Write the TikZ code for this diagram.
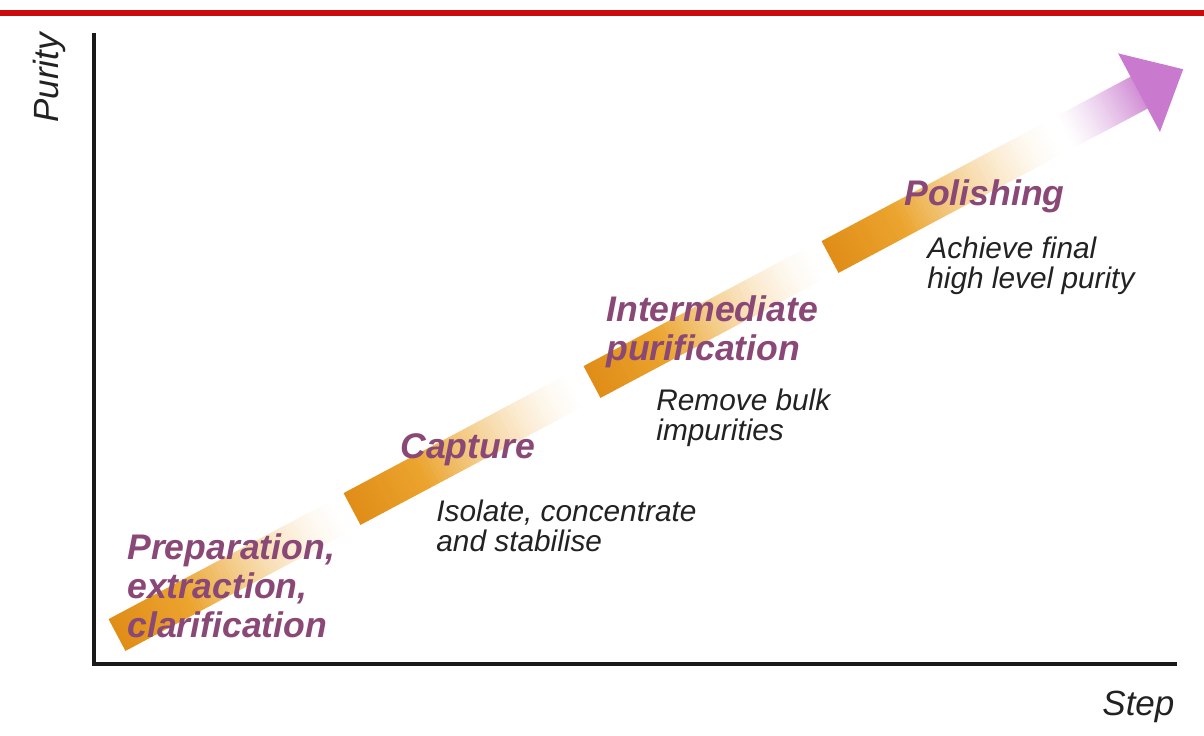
\documentclass[tikz,border=0pt]{standalone}
\usepackage{fontspec}
\setmainfont{Liberation Sans}
\definecolor{redbar}{HTML}{CC0A0A}
\definecolor{banddeep}{HTML}{E08E18}
\definecolor{bandmid}{HTML}{EBA42E}
\definecolor{arrowpink}{HTML}{C97ACE}
\definecolor{stagetext}{HTML}{8A4876}
\definecolor{notetext}{HTML}{222222}

% One faded stage bar: solid orange at its start, fading to white along its length
\newcommand\stagebar[1]{%
  \begin{scope}[shift={(#1)}, rotate=28]
    \foreach \i in {0,...,17}{
      \pgfmathsetmacro\q{100-100*\i/18}
      \fill[banddeep!\q!bandmid] (\i*4.25,-18) rectangle (\i*4.25+5,18);
    }
    \foreach \i in {18,...,59}{
      \pgfmathsetmacro\p{100*(1-(\i-18)/42)^1.5}
      \fill[bandmid!\p!white] (\i*4.25,-18) rectangle (\i*4.25+5,18);
    }
  \end{scope}}

\begin{document}
\begin{tikzpicture}[x=0.5pt, y=-0.5pt,
  stage/.style={anchor=base west, inner sep=0pt, align=left, text=stagetext,
    font=\fontsize{17.8}{19.5}\selectfont\bfseries\itshape},
  note/.style={anchor=base west, inner sep=0pt, align=left, text=notetext,
    font=\fontsize{14.9}{15}\selectfont\itshape},
  axislabel/.style={inner sep=0pt, text=notetext, font=\fontsize{17.5}{20}\selectfont\itshape},
  axisline/.style={line width=1.75pt, black!90, line join=miter}]

\useasboundingbox (0,0) rectangle (1204,735);

% top rule
\fill[redbar] (0,10) rectangle (1204,16);

% axes
\coordinate (ytop) at (94,33);
\coordinate (origin) at (94,664);
\coordinate (xend) at (1177,664);
\draw[axisline] (ytop) -- (origin) -- (xend);
\node[axislabel, rotate=90, anchor=base west] (purity) at (58,123) {Purity};
\node[axislabel, anchor=base west] (steplabel) at (1102,715) {Step};

% stage bars along the rising band
\coordinate (s1) at (117,635);
\coordinate (s2) at (352,509);
\coordinate (s3) at (592,382);
\coordinate (s4) at (830,257);
\stagebar{s1}
\stagebar{s2}
\stagebar{s3}
\stagebar{s4}

% final arrow: shaft fading in from white, then the head
\begin{scope}[shift={(s4)}, rotate=28]
  \foreach \i in {0,...,39}{
    \pgfmathsetmacro\p{85*(\i/39)^1.3}
    \fill[arrowpink!\p!white] (265+\i*2.2,-18) rectangle (265+\i*2.2+3,18);
  }
  \fill[arrowpink] (350,-44.5) -- (400,0) -- (350,44.5) -- cycle;
\end{scope}

% stage titles and descriptions (multi-line nodes sit on their last baseline)
\node[stage] (prep) at (127,637) {Preparation,\\extraction,\\clarification};
\node[stage] (capture) at (400,458) {Capture};
\node[note] (isolate) at (436,551) {Isolate, concentrate\\and stabilise};
\node[stage] (interm) at (606,360) {Intermediate\\purification};
\node[note] (remove) at (656,440) {Remove bulk\\impurities};
\node[stage] (polish) at (904,205) {Polishing};
\node[note] (achieve) at (927,288) {Achieve final\\high level purity};

\end{tikzpicture}
\end{document}
